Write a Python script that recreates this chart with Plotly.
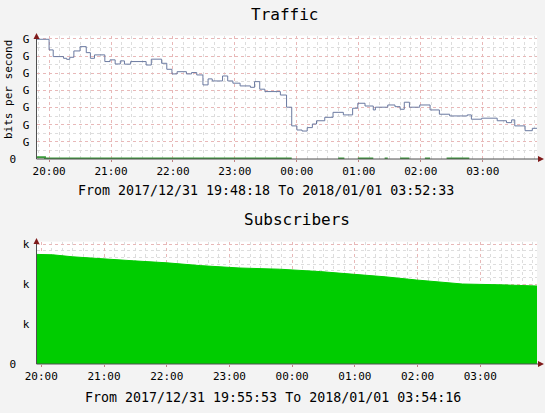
import plotly.graph_objects as go

W, H = 545, 413

def ts(hm):
    h = int(hm.split(":")[0])
    day = "2017-12-31" if h >= 12 else "2018-01-01"
    return f"{day} {hm}"

# ---- Traffic (top) ----
traffic_times = ["19:48:18","20:00","20:04","20:14","20:17","20:20","20:24","20:30","20:36","20:40",
                 "20:44","20:54","20:59","21:04","21:09","21:13","21:19","21:34","21:39","21:49",
                 "21:54","21:59","22:04","22:13","22:18","22:23","22:29","22:34","22:38","22:48",
                 "22:53","22:58","23:05","23:15","23:19","23:24","23:29","23:44","23:50","23:55",
                 "00:00","00:05","00:10","00:15","00:19","00:27","00:35","00:45","00:54","00:59",
                 "01:06","01:14","01:16","01:28","01:35","01:40","01:44","01:49","01:59","02:09",
                 "02:18","02:28","02:45","02:49","02:59","03:14","03:23","03:28","03:31","03:41",
                 "03:48","03:52:33"]
traffic_vals = [6.98,6.36,5.97,5.87,5.81,5.93,6.30,6.55,6.20,5.87,
                6.07,5.68,5.78,5.54,5.72,5.53,5.68,5.48,5.82,5.58,
                5.23,4.96,5.09,4.96,5.04,4.90,4.32,4.67,4.55,4.84,
                4.55,4.42,4.26,4.18,4.51,4.07,3.93,3.73,3.02,1.93,
                1.69,1.63,1.83,2.04,2.23,2.43,2.72,2.57,2.96,3.25,
                3.09,2.86,3.02,3.15,3.05,2.90,3.31,3.02,3.15,2.86,
                2.61,2.51,2.57,2.32,2.38,2.23,2.12,2.28,1.93,1.65,
                1.79,1.79]

low_times = ["19:48:18","19:56","23:55","23:56","00:40","00:46","00:47","00:59","01:14","01:15",
             "01:25","01:28","01:29","01:40","01:49","01:50","02:04","02:09","02:10","02:25","02:47"]
low_vals = [0.1,0.03,0.03,None,0.03,0.03,None,0.03,0.03,None,
            0.03,0.03,None,0.03,0.03,None,0.03,0.03,None,0.03,0.03]

NB = "\u00a0"
traffic_ticks = [0,1,2,3,4,5,6,7]
traffic_ticktext = ["0" + NB*3] + ["G" + NB]*7

# ---- Subscribers (bottom) ----
sub_times = ["19:55:53","20:11","20:30","20:56","21:28","22:00","22:32","23:10","23:48","00:27",
             "00:57","01:29","01:59","02:21","02:43","03:19","03:54:16"]
sub_vals = [2.74,2.73,2.68,2.63,2.58,2.53,2.46,2.40,2.37,2.31,
            2.25,2.18,2.10,2.05,2.00,1.98,1.95]
sub_ticks = [0,1,2,3]
sub_ticktext = ["0" + NB*3] + ["k" + NB]*3

MONO = "DejaVu Sans Mono"
MAJ = "#E8B8B8"
MIN = "#DDDDDD"

fig = go.Figure()
fig.add_trace(go.Scatter(x=[ts(t) for t in traffic_times], y=traffic_vals, mode="lines",
                         line=dict(shape="hv", color="#6B7AA1", width=1), xaxis="x", yaxis="y",
                         showlegend=False))
fig.add_trace(go.Scatter(x=[ts(t) for t in low_times], y=low_vals, mode="lines",
                         line=dict(shape="hv", color="#3A9A3A", width=2), xaxis="x", yaxis="y",
                         showlegend=False, connectgaps=False))
fig.add_trace(go.Scatter(x=[ts(t) for t in sub_times], y=sub_vals, mode="lines",
                         line=dict(color="#00CC00", width=1), fill="tozeroy", fillcolor="#00CC00",
                         xaxis="x2", yaxis="y2", showlegend=False))

def px(x): return x / W
def py(y): return 1 - y / H

xdom = [px(37), px(537)]
xcommon = dict(type="date", tickformat="%H:%M", dtick=3600000, tick0="2017-12-31 20:00",
               showgrid=True, gridcolor=MAJ, griddash="dot", gridwidth=1,
               minor=dict(dtick=600000, showgrid=True, gridcolor=MIN, griddash="dot", ticks=""),
               ticks="outside", ticklen=2, tickcolor="#C08080",
               tickfont=dict(family=MONO, size=11, color="#000"), zeroline=False, showline=False,
               fixedrange=True, automargin=False)
ycommon = dict(showgrid=True, gridcolor=MAJ, griddash="dot", zeroline=False, ticks="",
               tickfont=dict(family=MONO, size=11, color="#000"), automargin=False, fixedrange=True)
fig.update_layout(
    width=W, height=H, margin=dict(l=0, r=0, t=0, b=0, pad=0, autoexpand=False),
    paper_bgcolor="#F3F3F3", plot_bgcolor="#FFFFFF",
    xaxis=dict(domain=xdom, range=["2017-12-31 19:48:18", "2018-01-01 03:52:33"], anchor="y", **xcommon),
    yaxis=dict(domain=[py(159), py(35.5)], range=[0, 7.2], anchor="x",
               tickvals=traffic_ticks, ticktext=traffic_ticktext,
               minor=dict(dtick=0.5, showgrid=True, gridcolor=MIN, griddash="dot"), **ycommon),
    xaxis2=dict(domain=xdom, range=["2017-12-31 19:55:53", "2018-01-01 03:54:16"], anchor="y2", **xcommon),
    yaxis2=dict(domain=[py(364), py(241.6)], range=[0, 3.06], anchor="x2",
                tickvals=sub_ticks, ticktext=sub_ticktext,
                minor=dict(dtick=1/6, showgrid=True, gridcolor=MIN, griddash="dot"), **ycommon),
)

shapes = []
AX = "#505050"
ARW = "#7F1A1A"
for (ybase, ytop) in [(159, 33), (364, 238)]:
    shapes.append(dict(type="line", xref="paper", yref="paper", x0=px(36.5), x1=px(540),
                       y0=py(ybase), y1=py(ybase), line=dict(color=AX, width=1)))
    shapes.append(dict(type="line", xref="paper", yref="paper", x0=px(36.5), x1=px(36.5),
                       y0=py(ybase), y1=py(ytop + 3), line=dict(color=AX, width=1)))
    shapes.append(dict(type="path", xref="paper", yref="paper",
                       path=f"M {px(36.5)} {py(ytop)} L {px(33.5)} {py(ytop+6)} L {px(39.5)} {py(ytop+6)} Z",
                       fillcolor=ARW, line=dict(color=ARW, width=0)))
    shapes.append(dict(type="path", xref="paper", yref="paper",
                       path=f"M {px(544)} {py(ybase)} L {px(538)} {py(ybase-3)} L {px(538)} {py(ybase+3)} Z",
                       fillcolor=ARW, line=dict(color=ARW, width=0)))
fig.update_layout(shapes=shapes)

ann = [
    dict(text="Traffic", x=px(284), y=py(14), font=dict(family=MONO, size=16, color="#000")),
    dict(text="Subscribers", x=px(297), y=py(219), font=dict(family=MONO, size=16, color="#000")),
    dict(text="From 2017/12/31 19:48:18 To 2018/01/01 03:52:33", x=px(266), y=py(191),
         font=dict(family=MONO, size=13.3, color="#000")),
    dict(text="From 2017/12/31 19:55:53 To 2018/01/01 03:54:16", x=px(273), y=py(397),
         font=dict(family=MONO, size=13.3, color="#000")),
    dict(text="bits per second", x=px(8), y=py(90), textangle=-90,
         font=dict(family=MONO, size=11, color="#000")),
]
for a in ann:
    a.update(xref="paper", yref="paper", showarrow=False, xanchor="center", yanchor="middle")
fig.update_layout(annotations=ann)

fig.write_html("out.html", config={"displayModeBar": False},
               post_script="document.body.style.margin='0';document.body.style.overflow='hidden';")
